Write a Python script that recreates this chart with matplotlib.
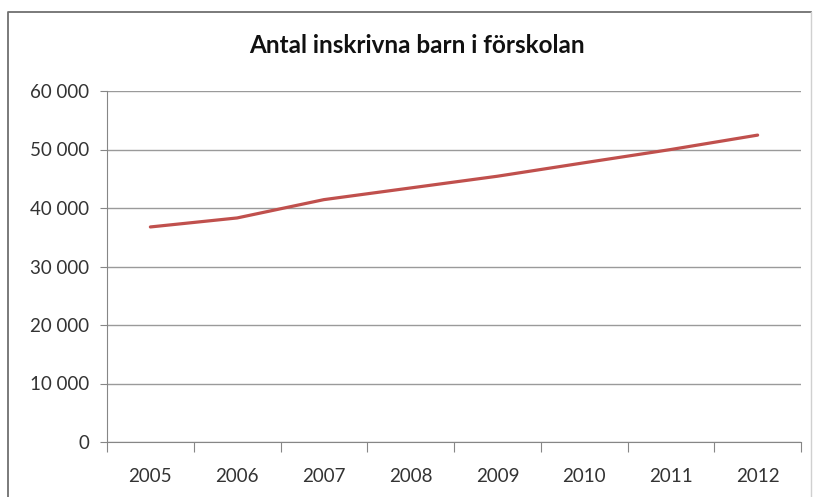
import matplotlib.pyplot as plt
from matplotlib.ticker import FuncFormatter
from matplotlib.lines import Line2D

years = ['2005', '2006', '2007', '2008', '2009', '2010', '2011', '2012']
barn = [36760, 38300, 41430, 43430, 45430, 47730, 50000, 52460]

plt.rcParams['font.family'] = ['Lato', 'DejaVu Sans']

fig = plt.figure(figsize=(8.16, 4.97), dpi=100)
ax = fig.add_axes([107 / 816, 1 - 442 / 497, (801 - 107) / 816, (442 - 91) / 497])

# ram runt diagrammet (nedre kanten syns inte)
L, R, T = 8 / 816, 811 / 816, 1 - 12 / 497
fig.lines.append(Line2D([L, L, R], [0, T, T], transform=fig.transFigure,
                        color='#6f6f6f', linewidth=1.3))
fig.lines.append(Line2D([R, R], [0, T], transform=fig.transFigure,
                        color='#d0d0d0', linewidth=1.0))

x = list(range(len(years)))
ax.plot(x, barn, color='#C0504D', linewidth=2.3, solid_capstyle='round')

ax.set_xlim(-0.5, len(years) - 0.5)
ax.set_ylim(0, 60000)
ax.set_yticks(range(0, 60001, 10000))
ax.yaxis.set_major_formatter(FuncFormatter(lambda v, p: f'{int(v):,}'.replace(',', ' ')))
ax.grid(axis='y', color='#9a9a9a', linewidth=1)
ax.set_axisbelow(True)

ax.set_xticks([i - 0.5 for i in range(len(years) + 1)])
ax.set_xticklabels([])
ax.set_xticks(x, minor=True)
ax.set_xticklabels(years, minor=True)
ax.tick_params(axis='x', which='minor', length=0, pad=19, labelsize=13.5, labelcolor='#333333')
ax.tick_params(axis='x', which='major', length=7, color='#868686')
ax.tick_params(axis='y', length=5, color='#868686', labelsize=13.5, labelcolor='#333333', pad=8)

for s in ['top', 'right']:
    ax.spines[s].set_visible(False)
for s in ['left', 'bottom']:
    ax.spines[s].set_color('#868686')

fig.text(417 / 816, 1 - 46 / 497, 'Antal inskrivna barn i förskolan', ha='center', va='center',
         fontsize=17.5, fontweight='bold', color='#111111')

fig.savefig('out.png', dpi=100)
